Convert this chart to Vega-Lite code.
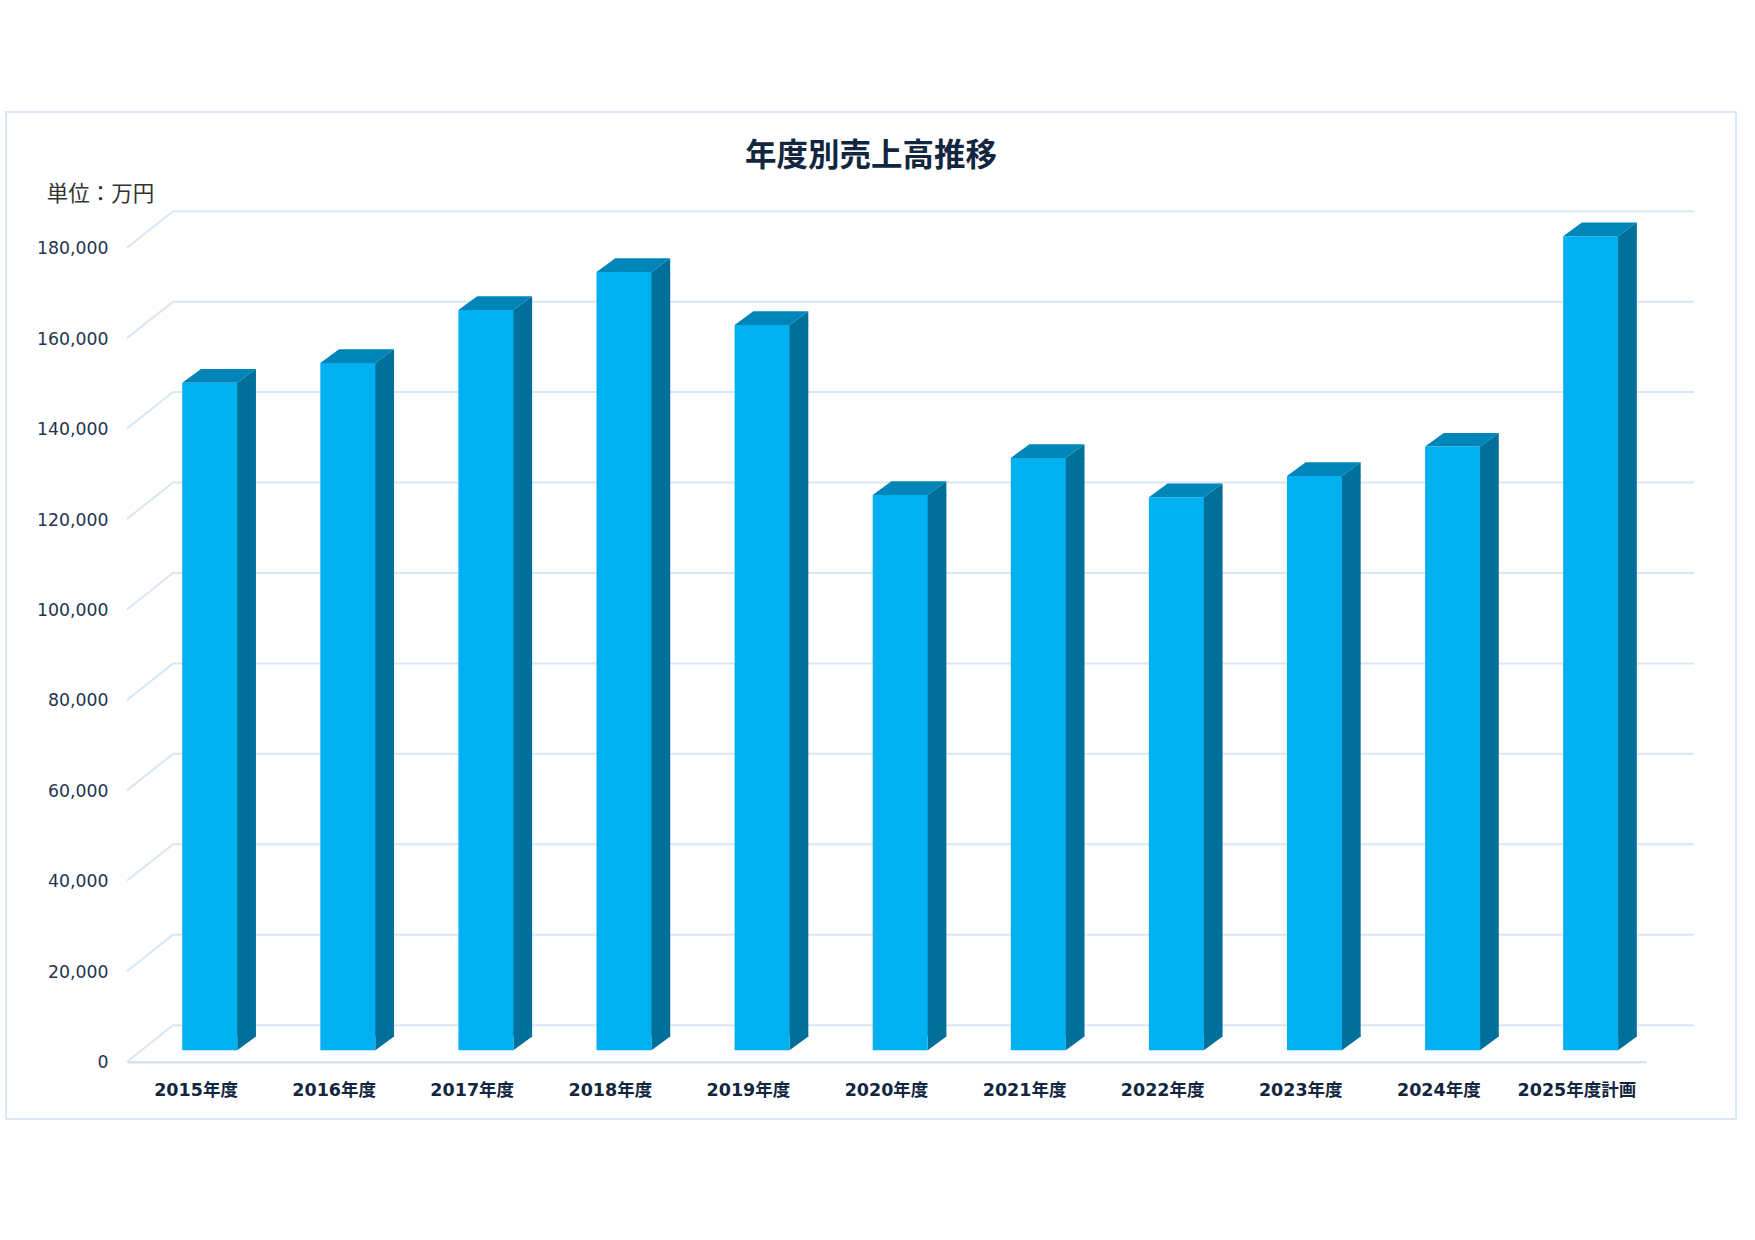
{
  "$schema": "https://vega.github.io/schema/vega-lite/v5.json",
  "width": 1519,
  "height": 814,
  "autosize": {"type": "none"},
  "padding": {"left": 127, "top": 247.7, "right": 109, "bottom": 178.3},
  "background": "white",
  "title": {
    "text": "年度別売上高推移",
    "font": "Noto Sans CJK JP",
    "fontSize": 31.5,
    "fontWeight": "bold",
    "color": "#12263f",
    "anchor": "middle",
    "frame": "group",
    "dx": -15.5,
    "offset": -64
  },
  "datasets": {
    "sales": [
      {"year": "2015年度", "sales": 147600},
      {"year": "2016年度", "sales": 152000},
      {"year": "2017年度", "sales": 163700},
      {"year": "2018年度", "sales": 172100},
      {"year": "2019年度", "sales": 160400},
      {"year": "2020年度", "sales": 122800},
      {"year": "2021年度", "sales": 131000},
      {"year": "2022年度", "sales": 122300},
      {"year": "2023年度", "sales": 127000},
      {"year": "2024年度", "sales": 133500},
      {"year": "2025年度計画", "sales": 180000}
    ],
    "grid": [
      {"value": 0}, {"value": 20000}, {"value": 40000}, {"value": 60000}, {"value": 80000},
      {"value": 100000}, {"value": 120000}, {"value": 140000}, {"value": 160000}, {"value": 180000}
    ]
  },
  "data": {"name": "sales"},
  "config": {"view": {"stroke": null}},
  "encoding": {
    "x": {
      "field": "year",
      "type": "nominal",
      "sort": null,
      "title": null,
      "scale": {"paddingInner": 0, "paddingOuter": 0},
      "axis": {
        "labelAngle": 0,
        "labelFont": "DejaVu Sans, Noto Sans CJK JP",
        "labelFontSize": 17.5,
        "labelFontWeight": "bold",
        "labelColor": "#12263f",
        "labelPadding": 20,
        "ticks": false,
        "domainColor": "#d6e3f0",
        "domainWidth": 2.5,
        "grid": false
      }
    },
    "y": {
      "field": "sales",
      "type": "quantitative",
      "scale": {"domain": [0, 180000], "nice": false},
      "title": "単位：万円",
      "axis": {
        "values": [0, 20000, 40000, 60000, 80000, 100000, 120000, 140000, 160000, 180000],
        "format": ",.0f",
        "grid": false,
        "domain": false,
        "ticks": false,
        "labelFont": "DejaVu Sans",
        "labelFontSize": 17.3,
        "labelColor": "#1f3550",
        "labelPadding": 19,
        "labelOffset": 1,
        "titleFont": "Noto Sans CJK JP",
        "titleFontSize": 21.5,
        "titleFontWeight": "normal",
        "titleColor": "#333333",
        "titleAngle": 0,
        "titleAlign": "center",
        "titleBaseline": "middle",
        "titleX": -27,
        "titleY": -53
      }
    }
  },
  "layer": [
    {
      "data": {"values": [{"year": "2015年度", "value": 0}]},
      "mark": {
        "type": "point",
        "shape": "M -121 -949.7 H 1609 V 57.3 H -121 Z",
        "size": 4,
        "filled": false,
        "stroke": "#dce9f5",
        "strokeWidth": 2,
        "opacity": 1
      },
      "encoding": {
        "x": {"field": "year", "type": "nominal", "sort": null, "bandPosition": 0},
        "y": {"field": "value", "type": "quantitative"}
      }
    },
    {
      "data": {"name": "grid"},
      "transform": [{"calculate": "'2015年度'", "as": "year"}],
      "mark": {
        "type": "point",
        "shape": "M 0 0 L 46 -36.5 H 1567",
        "size": 4,
        "filled": false,
        "stroke": "#d9e6f3",
        "strokeWidth": 2,
        "opacity": 1
      },
      "encoding": {
        "x": {"field": "year", "type": "nominal", "sort": null, "bandPosition": 0},
        "y": {"field": "value", "type": "quantitative"}
      }
    },
    {
      "mark": {"type": "bar", "size": 19.7, "xOffset": 50.05, "yOffset": -11.4, "y2Offset": -25.1, "color": "#006f9a"},
      "encoding": {"y2": {"datum": 0}}
    },
    {
      "mark": {
        "type": "point",
        "shape": "M 41.2 -11.4 L 59.9 -25.1 V -10.4 H 41.2 Z",
        "size": 4,
        "filled": true,
        "color": "#006f9a",
        "strokeWidth": 0,
        "opacity": 1
      }
    },
    {
      "transform": [{"calculate": "0", "as": "base"}],
      "mark": {
        "type": "point",
        "shape": "M 41.2 -11.4 V -26.1 H 59.9 V -25.1 Z",
        "size": 4,
        "filled": true,
        "color": "#006f9a",
        "strokeWidth": 0,
        "opacity": 1
      },
      "encoding": {"y": {"field": "base", "type": "quantitative"}}
    },
    {
      "mark": {
        "type": "point",
        "shape": "M -13.8 -11.4 L 4.9 -25.1 H 59.9 L 41.2 -11.4 Z",
        "size": 4,
        "filled": true,
        "color": "#0085b8",
        "strokeWidth": 0,
        "opacity": 1
      }
    },
    {
      "mark": {"type": "bar", "size": 55, "xOffset": 13.7, "yOffset": -11.4, "y2Offset": -11.4, "color": "#00b0f0"},
      "encoding": {"y2": {"datum": 0}}
    }
  ]
}
